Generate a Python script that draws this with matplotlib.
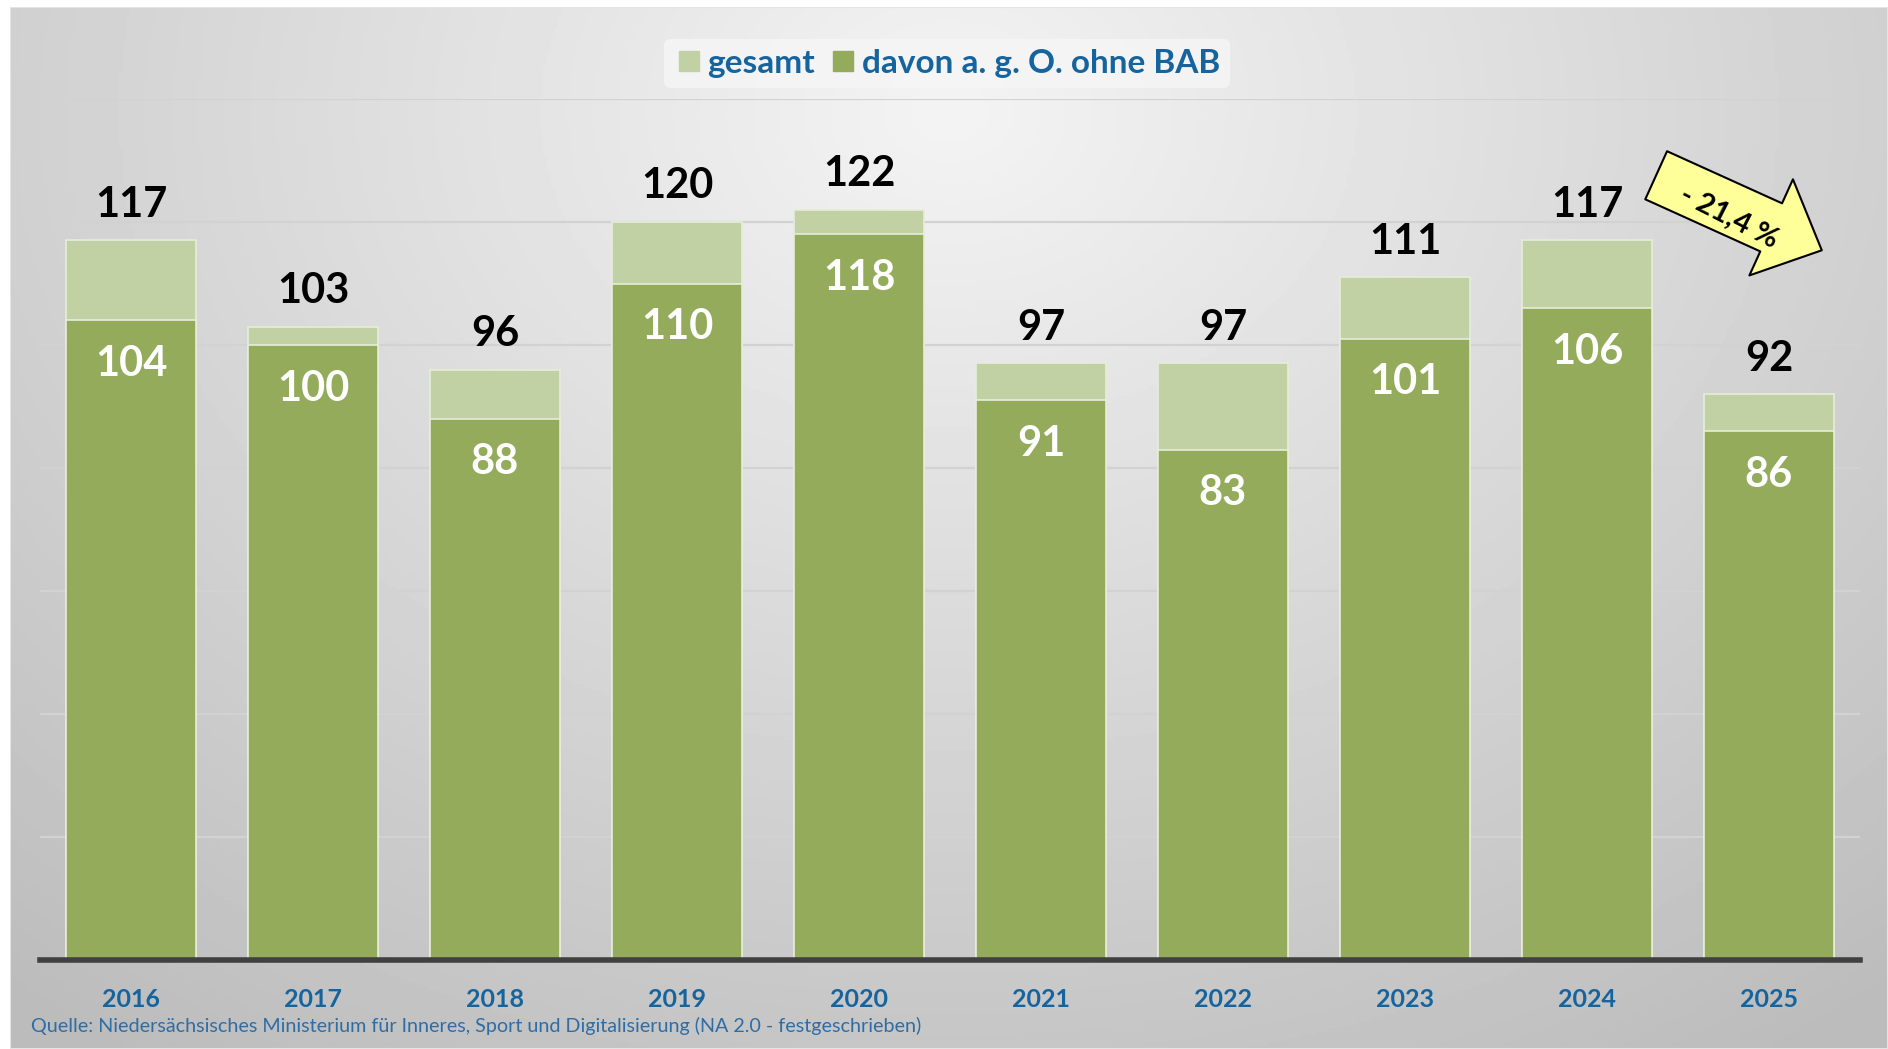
import numpy as np
import matplotlib
matplotlib.use("Agg")
import matplotlib.pyplot as plt
from matplotlib.patches import Rectangle
from matplotlib.lines import Line2D

years = ["2016", "2017", "2018", "2019", "2020", "2021", "2022", "2023", "2024", "2025"]
gesamt = [117, 103, 96, 120, 122, 97, 97, 111, 117, 92]
davon = [104, 100, 88, 110, 118, 91, 83, 101, 106, 86]
change_label = "- 21,4 %"
source = "Quelle: Niedersächsisches Ministerium für Inneres, Sport und Digitalisierung (NA 2.0 - festgeschrieben)"

light_green = "#C1D1A3"
dark_green = "#93AB5B"
blue = "#16649E"

plt.rcParams['font.family'] = ['Lato', 'DejaVu Sans']

W, H = 1888, 1049
fig = plt.figure(figsize=(W / 100, H / 100), dpi=100)
fig.patch.set_facecolor("white")

# gray gradient backdrop
bg = fig.add_axes([10 / W, 0, (W - 10) / W, (H - 7) / H])
bg.set_axis_off()
yy, xx = np.mgrid[0:1:300j, 0:1:500j]
r = np.sqrt(((xx - 0.5) / 0.72) ** 2 + ((yy - 0.1) / 1.0) ** 2)
shade = 0.955 - 0.2 * np.clip(r, 0, 1.1)
bg.imshow(shade, cmap="gray", vmin=0, vmax=1, aspect="auto", extent=[0, 1, 0, 1], origin="upper")
bg.add_patch(Rectangle((0, 0), 1, 1, transform=bg.transAxes, fill=False, ec="#E4E4E4", lw=1.5))

ax = fig.add_axes([40 / W, 1 - 960 / H, 1820 / W, 861 / H])
ax.patch.set_alpha(0)
x = np.arange(len(years))
ax.bar(x, gesamt, width=0.715, color=light_green, edgecolor="#E6EDDA", linewidth=1.2, zorder=3)
ax.bar(x, davon, width=0.715, color=dark_green, edgecolor="#E6EDDA", linewidth=1.2, zorder=3)

ax.set_xlim(-0.5, len(years) - 0.5)
ax.set_ylim(0, 140)
ax.set_yticks(np.arange(0, 141, 20))
ax.yaxis.grid(True, color="#D2D2D2", linewidth=1.6, zorder=0)
ax.tick_params(axis="y", length=0, labelleft=False)
for s in ["top", "left", "right"]:
    ax.spines[s].set_visible(False)
ax.spines["bottom"].set_color("#404040")
ax.spines["bottom"].set_linewidth(4)
ax.spines["bottom"].set_zorder(5)
ax.set_xticks(x)
ax.set_xticklabels(years, fontsize=18, fontweight="bold", color=blue)
ax.tick_params(axis="x", length=0, pad=20)

for xi, g, d in zip(x, gesamt, davon):
    ax.annotate(str(g), (xi, g), xytext=(0, 17), textcoords="offset points",
                ha="center", va="baseline", fontsize=30, fontweight="bold", color="black", zorder=6)
    ax.annotate(str(d), (xi, d), xytext=(0, -40), textcoords="offset points",
                ha="center", va="baseline", fontsize=30, fontweight="bold", color="white", zorder=6)

# trend arrow
ax.annotate("", xy=(9.29, 115.4), xytext=(8.38, 127.6),
            arrowprops=dict(arrowstyle="simple,head_length=1.0,head_width=1.9,tail_width=0.95",
                            mutation_scale=40, fc="#FFFF99", ec="black", lw=1.5,
                            shrinkA=0, shrinkB=0),
            zorder=7, annotation_clip=False)
ax.text(8.78, 120.8, change_label, rotation=-27, rotation_mode="anchor", ha="center", va="center",
        fontsize=21, fontweight="bold", color="black", zorder=8)

handles = [Line2D([], [], marker="s", linestyle="none", markersize=15, color=light_green),
           Line2D([], [], marker="s", linestyle="none", markersize=15, color=dark_green)]
leg = fig.legend(handles, ["gesamt", "davon a. g. O. ohne BAB"], loc="center", ncol=2,
                 bbox_to_anchor=(947 / W, 1 - 63 / H), frameon=True, fontsize=24,
                 handletextpad=0.1, columnspacing=0.4, borderpad=0.3, handlelength=0.9)
leg.get_frame().set_facecolor("#F6F6F6")
leg.get_frame().set_edgecolor("none")
leg.get_frame().set_alpha(0.8)
for t in leg.get_texts():
    t.set_color(blue)
    t.set_fontweight("bold")

fig.text(31 / W, 1 - 1032 / H, source, fontsize=14.2, color="#2E6DA6", ha="left", va="baseline")

fig.savefig("out.png", dpi=100)
